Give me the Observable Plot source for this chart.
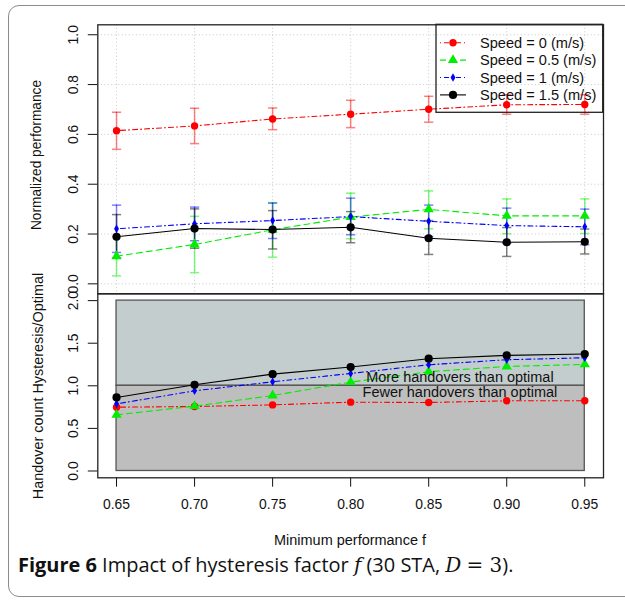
<!DOCTYPE html>
<html><head><meta charset="utf-8">
<script src="https://cdn.jsdelivr.net/npm/d3@7"></script>
<script src="https://cdn.jsdelivr.net/npm/@observablehq/plot@0.6"></script>
<style>
body{margin:0;background:#fff;}
#wrap{position:relative;width:625px;height:601px;overflow:hidden;background:#fff;color:#111;}
.abs{position:absolute;}
#card{left:8px;top:5px;width:680px;height:592px;border:1.5px solid #8c8c8c;border-radius:11px;box-sizing:border-box;}
.rot{white-space:nowrap;text-align:center;transform:rotate(-90deg);transform-origin:50% 50%;line-height:16px;width:300px;height:16px;}
.hz{white-space:nowrap;text-align:center;line-height:16px;width:300px;height:16px;}
.lg{white-space:nowrap;line-height:16px;height:16px;}
#caption{left:18px;top:553px;white-space:nowrap;line-height:24px;color:#111;}
.serif{font-family:"DejaVu Serif","Liberation Serif",serif;font-weight:400;}
svg.layer{position:absolute;left:0;}
</style></head><body>
<div id="wrap"><div id="card" class="abs"></div></div>
<script>
// ---- data ----
const minPerf = [0.65, 0.70, 0.75, 0.80, 0.85, 0.90, 0.95];
const speeds = ["Speed = 0 (m/s)", "Speed = 0.5 (m/s)", "Speed = 1 (m/s)", "Speed = 1.5 (m/s)"];

// normalized performance (mean, lower, upper) per speed
const perfSpeed0   = [0.615, 0.634, 0.662, 0.681, 0.701, 0.719, 0.720];
const perfSpeed0Lo = [0.540, 0.563, 0.619, 0.627, 0.649, 0.681, 0.681];
const perfSpeed0Hi = [0.689, 0.705, 0.706, 0.737, 0.753, 0.759, 0.759];

const perfSpeed05   = [0.111, 0.158, 0.217, 0.268, 0.299, 0.273, 0.273];
const perfSpeed05Lo = [0.032, 0.045, 0.107, 0.181, 0.221, 0.201, 0.202];
const perfSpeed05Hi = [0.189, 0.271, 0.326, 0.364, 0.373, 0.341, 0.341];

const perfSpeed1   = [0.221, 0.241, 0.254, 0.270, 0.251, 0.234, 0.229];
const perfSpeed1Lo = [0.126, 0.173, 0.182, 0.197, 0.190, 0.163, 0.157];
const perfSpeed1Hi = [0.316, 0.308, 0.324, 0.344, 0.316, 0.304, 0.300];

const perfSpeed15   = [0.189, 0.222, 0.218, 0.227, 0.183, 0.167, 0.169];
const perfSpeed15Lo = [0.104, 0.143, 0.140, 0.165, 0.118, 0.110, 0.120];
const perfSpeed15Hi = [0.278, 0.301, 0.294, 0.290, 0.254, 0.226, 0.220];

// handover count ratio hysteresis / optimal per speed
const hoSpeed0  = [0.749, 0.757, 0.776, 0.808, 0.804, 0.824, 0.824];
const hoSpeed05 = [0.659, 0.761, 0.886, 1.043, 1.165, 1.227, 1.251];
const hoSpeed1  = [0.788, 0.941, 1.047, 1.145, 1.247, 1.306, 1.329];
const hoSpeed15 = [0.863, 1.012, 1.137, 1.220, 1.318, 1.357, 1.373];

const perfTicks = [0.0, 0.2, 0.4, 0.6, 0.8, 1.0];
const hoTicks = [0.0, 0.5, 1.0, 1.5, 2.0];
const zoneBounds = [0, 1, 2];
const zoneNotes = ["More handovers than optimal", "Fewer handovers than optimal"];
const zoneNoteX = [0.87, 0.87];
const zoneNoteY = [1.10, 0.92];

// ---- styles ----
const styles = [
  {color: "#ff0000", dash: "1,3,5,3", symbol: "circle", r: 3.7},
  {color: "#00ee00", dash: "6,4", symbol: "triangle", r: 3.8},
  {color: "#0000ff", dash: "1,3,5,3", symbol: "diamond", r: 2.6},
  {color: "#000000", dash: null, symbol: "circle", r: 4.1}
];

const canvas = document.createElement("canvas");
const cx2d = canvas.getContext("2d");
function textW(str, px, fam) { cx2d.font = `${px}px ${fam}`; return cx2d.measureText(str).width; }
function hasFont(name) {
  const s = "Speed = 0.5 (m/s) Wmil";
  return textW(s, 40, `'${name}', monospace`) !== textW(s, 40, "monospace");
}
const sansName = ["Liberation Sans", "Arial", "Helvetica", "Roboto", "Noto Sans"].find(hasFont) || "sans-serif";
const font = `'${sansName}', sans-serif`;
const fs = 14.5 * 152 / textW("Minimum performance f", 14.5, font);
const tickFs = fs * 0.96;

const perfMeans = [perfSpeed0, perfSpeed05, perfSpeed1, perfSpeed15];
const perfLos = [perfSpeed0Lo, perfSpeed05Lo, perfSpeed1Lo, perfSpeed15Lo];
const perfHis = [perfSpeed0Hi, perfSpeed05Hi, perfSpeed1Hi, perfSpeed15Hi];
const hoVals = [hoSpeed0, hoSpeed05, hoSpeed1, hoSpeed15];

const perfRows = speeds.map((s, i) => minPerf.map((x, j) => ({x, mean: perfMeans[i][j], lo: perfLos[i][j], hi: perfHis[i][j]})));
const hoRows = speeds.map((s, i) => minPerf.map((x, j) => ({x, v: hoVals[i][j]})));

const capSymbol = {draw(ctx, size) { const w = Math.sqrt(size / Math.PI); ctx.moveTo(-w, 0); ctx.lineTo(w, 0); }};
const xDomain = [0.638, 0.962];

// ---- top panel ----
const topMarks = [
  Plot.gridX({ticks: minPerf, stroke: "#c8c8c8", strokeOpacity: 1, strokeDasharray: "1,2.5"}),
  Plot.gridY({ticks: perfTicks, stroke: "#c8c8c8", strokeOpacity: 1, strokeDasharray: "1,2.5"})
];
styles.forEach((st, i) => {
  topMarks.push(Plot.line(perfRows[i], {x: "x", y: "mean", stroke: st.color, strokeWidth: 1.1, strokeDasharray: st.dash}));
});
styles.forEach((st, i) => {
  const o = {stroke: st.color, strokeOpacity: 0.5, strokeWidth: 1.5};
  topMarks.push(Plot.ruleX(perfRows[i], {x: "x", y1: "lo", y2: "hi", ...o}));
  topMarks.push(Plot.dot(perfRows[i], {x: "x", y: "lo", symbol: capSymbol, r: 4.6, fill: "none", ...o}));
  topMarks.push(Plot.dot(perfRows[i], {x: "x", y: "hi", symbol: capSymbol, r: 4.6, fill: "none", ...o}));
});
styles.forEach((st, i) => {
  topMarks.push(Plot.dot(perfRows[i], {x: "x", y: "mean", symbol: st.symbol, r: st.r, fill: st.color, stroke: "none"}));
});
topMarks.push(Plot.axisY({ticks: perfTicks, tickFormat: d3.format(".1f"), tickSize: 9.5, tickPadding: 15, tickRotate: -90, lineAnchor: "middle", label: null, fontSize: tickFs}));
topMarks.push(Plot.frame({stroke: "#222", strokeWidth: 1.3}));

const topPlot = Plot.plot({
  width: 625, height: 300,
  marginLeft: 97.3, marginRight: 22, marginTop: 24.3, marginBottom: 6.7,
  x: {domain: xDomain, axis: null},
  y: {domain: [-0.04, 1.04], axis: null},
  style: {fontFamily: font, fontSize: fs + "px", background: "transparent", color: "#111", overflow: "visible"},
  marks: topMarks
});

// ---- bottom panel ----
const xr = d3.extent(minPerf);
const botMarks = [
  Plot.rect([zoneBounds[1]], {x1: xr[0], x2: xr[1], y1: d => d, y2: zoneBounds[2], fill: "#c3cdcd", stroke: "#555", strokeWidth: 1.3}),
  Plot.rect([zoneBounds[0]], {x1: xr[0], x2: xr[1], y1: d => d, y2: zoneBounds[1], fill: "#bebebe", stroke: "#555", strokeWidth: 1.3})
];
styles.forEach((st, i) => {
  botMarks.push(Plot.line(hoRows[i], {x: "x", y: "v", stroke: st.color, strokeWidth: 1.1, strokeDasharray: st.dash}));
});
styles.forEach((st, i) => {
  botMarks.push(Plot.dot(hoRows[i], {x: "x", y: "v", symbol: st.symbol, r: st.r, fill: st.color, stroke: "none"}));
});
botMarks.push(Plot.text(zoneNotes, {x: (d, i) => zoneNoteX[i], y: (d, i) => zoneNoteY[i], text: d => d, fontSize: fs, fill: "#111"}));
botMarks.push(Plot.axisY({ticks: hoTicks, tickFormat: d3.format(".1f"), tickSize: 9.5, tickPadding: 15, tickRotate: -90, lineAnchor: "middle", label: null, fontSize: tickFs}));
botMarks.push(Plot.axisX({ticks: minPerf, tickFormat: d3.format(".2f"), tickSize: 9.4, tickPadding: 12, label: null, fontSize: tickFs}));
botMarks.push(Plot.frame({stroke: "#222", strokeWidth: 1.3}));

const botPlot = Plot.plot({
  width: 625, height: 321,
  marginLeft: 97.3, marginRight: 22, marginTop: 13.3, marginBottom: 123.7,
  x: {domain: xDomain, axis: null},
  y: {domain: [-0.08, 2.08], axis: null},
  style: {fontFamily: font, fontSize: fs + "px", background: "transparent", color: "#111", overflow: "visible"},
  marks: botMarks
});

const wrap = document.getElementById("wrap");
botPlot.classList.add("layer"); botPlot.style.top = "280px";
topPlot.classList.add("layer"); topPlot.style.top = "0px";
wrap.appendChild(botPlot);
wrap.appendChild(topPlot);

// ---- legend: box, line samples and symbols in SVG, labels as HTML ----
const leg = d3.select(wrap).append("svg").attr("class", "layer").style("top", "0px")
  .attr("width", 625).attr("height", 300).style("overflow", "visible");
leg.append("rect").attr("x", 436).attr("y", 24.3).attr("width", 166.7).attr("height", 88)
  .attr("fill", "none").attr("stroke", "#222").attr("stroke-width", 1.3);
const symMap = {circle: d3.symbolCircle, triangle: d3.symbolTriangle, diamond: d3.symbolDiamond};
const legDivs = [];
speeds.forEach((s, i) => {
  const st = styles[i];
  const y = 42.7 + i * 17.4;
  leg.append("line").attr("x1", 440).attr("x2", 466).attr("y1", y).attr("y2", y)
    .attr("stroke", st.color).attr("stroke-width", 1.1).attr("stroke-dasharray", st.dash);
  leg.append("path").attr("transform", `translate(453,${y})`)
    .attr("d", d3.symbol(symMap[st.symbol], Math.PI * st.r * st.r)()).attr("fill", st.color);
  const d = document.createElement("div");
  d.className = "abs lg";
  d.style.left = "480px";
  d.style.top = (y - 8) + "px";
  d.style.fontFamily = font;
  d.style.fontSize = fs + "px";
  const sp = document.createElement("span");
  sp.textContent = s;
  d.appendChild(sp);
  wrap.appendChild(d);
  legDivs.push([d, sp]);
});
const lw = legDivs[1][1].offsetWidth;
if (lw > 0) legDivs.forEach(([d]) => d.style.fontSize = (fs * 116 / lw) + "px");

// ---- axis titles ----
function addDiv(cls, html, cx, cy, target) {
  const d = document.createElement("div");
  d.className = "abs " + cls;
  d.style.left = (cx - 150) + "px";
  d.style.top = (cy - 8) + "px";
  d.style.fontFamily = font;
  d.style.fontSize = fs + "px";
  const sp = document.createElement("span");
  sp.textContent = html;
  d.appendChild(sp);
  wrap.appendChild(d);
  const w = sp.offsetWidth;
  if (w > 0 && target) d.style.fontSize = (fs * target / w) + "px";
}
addDiv("rot", "Normalized performance", 36.7, 155, 150);
addDiv("rot", "Handover count Hysteresis/Optimal", 37.5, 386, 227);
addDiv("hz", "Minimum performance f", 350, 540, 152);

// ---- caption ----
const capFam = hasFont("Open Sans") ? "'Open Sans', sans-serif" : "Lato, sans-serif";
const cap = document.createElement("div");
cap.id = "caption"; cap.className = "abs";
cap.style.fontFamily = capFam;
cap.style.fontWeight = "500";
cap.style.fontSize = "18px";
cap.innerHTML = '<b>Figure 6</b> Impact of hysteresis factor <i class="serif">f</i> (30 STA, <i class="serif">D</i> <span class="serif">= 3</span>).';
wrap.appendChild(cap);
const capW = cap.getBoundingClientRect().width;
cap.style.fontSize = (18 * 496 / capW) + "px";
cap.style.top = (565 - 12) + "px";
</script>
</body></html>
